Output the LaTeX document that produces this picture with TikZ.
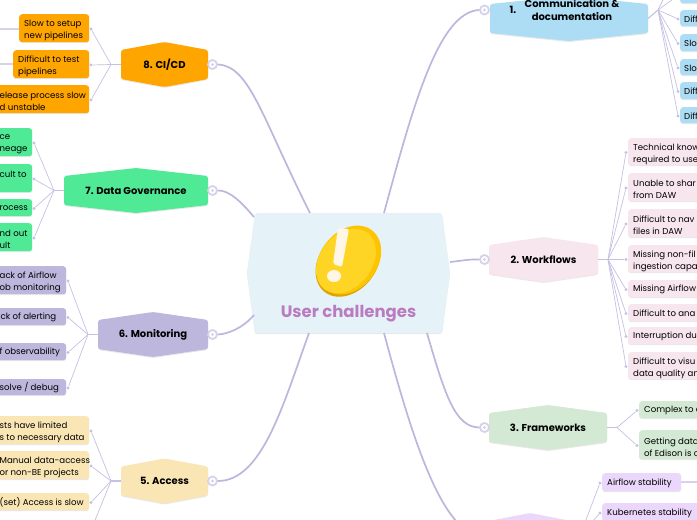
\documentclass[tikz,border=0pt]{standalone}
\usepackage{fontspec}
\setmainfont{Poppins}
\definecolor{cicd}{HTML}{FFA500}
\definecolor{gov}{HTML}{50E996}
\definecolor{moni}{HTML}{BDB6DD}
\definecolor{acc}{HTML}{F9E6B4}
\definecolor{comm}{HTML}{ADDCF5}
\definecolor{wflow}{HTML}{F7E6EE}
\definecolor{frame}{HTML}{D3E9D3}
\definecolor{stab}{HTML}{EBD7FB}
\definecolor{centre}{HTML}{E5F3F8}
\definecolor{trunk}{HTML}{BDB6DD}
\definecolor{twig}{HTML}{C6C1E4}
\definecolor{ringc}{HTML}{D6D2EA}
\definecolor{titlec}{HTML}{BA7BC0}
\definecolor{coinD}{HTML}{DDA500}
\definecolor{coinA}{HTML}{FFC400}
\definecolor{coinB}{HTML}{FFD525}
\definecolor{cream}{HTML}{FFF6E6}
\tikzset{
  softshadow/.style={preaction={fill=black,fill opacity=.09,transform canvas={yshift=-1pt}}},
  hexshape/.style={rounded corners=2.5pt,softshadow},
  boxshape/.style={draw=none,rounded corners=3pt,inner sep=0pt,softshadow,anchor=north west},
  leaftext/.style={anchor=west,align=left,inner sep=0pt,font=\fontsize{8.6}{12}\selectfont},
  topictext/.style={align=center,inner sep=0pt,font=\fontsize{10}{13}\selectfont\bfseries},
  bulletdot/.style={circle,fill=twig,inner sep=0pt,minimum size=3.2pt},
  ringdot/.style={circle,draw=ringc,fill=white,line width=1.8pt,inner sep=0pt,minimum size=9pt},
  trunkline/.style={draw=trunk,line width=1.7pt},
  stemline/.style={draw=twig,line width=1.1pt},
  twigline/.style={draw=twig,line width=.7pt},
  tailline/.style={draw=ringc,line width=1.1pt},
}
\newcommand\topichex[6]{% name,x1,x2,ymid,colour,text
  \fill[hexshape,fill=#5] (#2,{#4-14.5}) -- ({(#2+#3)/2},{#4-22.5}) -- (#3,{#4-14.5}) -- (#3,{#4+14.5}) -- ({(#2+#3)/2},{#4+22.5}) -- (#2,{#4+14.5}) -- cycle;
  \node[topictext] (#1) at ({(#2+#3)/2},#4) {#6};
  \coordinate (#1L) at (#2,#4);
  \coordinate (#1R) at (#3,#4);
}
\newcommand\boxleaf[8]{% name,x1,x2,y1,y2,colour,textx,text
  \node[boxshape,fill=#6,minimum width={(#3-#2)*1pt},minimum height={(#5-#4)*1pt}] (#1) at (#2,#4) {};
  \node[leaftext] (#1t) at (#7,{(#4+#5)/2+((#5-#4)>22?2.5:1)}) {#8};
}
\newcommand\lleaf[8]{\boxleaf{#1}{#2}{#3}{#4}{#5}{#6}{#7}{#8}\node[bulletdot] (#1d) at ({#3+2},{(#4+#5)/2+1}) {};}
\newcommand\rleaf[8]{\boxleaf{#1}{#2}{#3}{#4}{#5}{#6}{#7}{#8}\node[bulletdot] (#1d) at ({#2-2},{(#4+#5)/2+1}) {};}
\begin{document}
\begin{tikzpicture}[x=1pt,y=-1pt]
\useasboundingbox (0,0) rectangle (697,520);
\clip (0,0) rectangle (697,520);
\fill[white] (0,0) rectangle (697,520);

% centre
\fill[hexshape,fill=centre] (255,213) -- (442,213) -- (450,273) -- (442,333) -- (255,333) -- (247,273) -- cycle;
\coordinate (cEight) at (310,213);
\coordinate (cSeven) at (254,217);
\coordinate (cSix) at (254,315);
\coordinate (cFive) at (309,333);
\coordinate (cOne) at (384,213);
\coordinate (cTwo) at (450,262);
\coordinate (cThree) at (427,333);
\coordinate (cFour) at (384,333);
% coin
\fill[coinD,rotate around={-38:(348,262)}] (348,262) ellipse (28.5 and 38);
\fill[coinA,rotate around={-38:(349,260)}] (349,260) ellipse (28.5 and 37.5);
\fill[coinB,rotate around={-38:(346,261)}] (346,261) ellipse (26 and 35.5);
\fill[cream,rounded corners=2pt] (338,228) -- (349,229) -- (342,267) -- (333,264) -- cycle;
\fill[cream] (334,276) ellipse (7 and 6);
\node[inner sep=0pt,text=titlec,font=\fontsize{16.5}{20}\selectfont\bfseries] (title) at (348.5,313.5) {User challenges};

% topics
\topichex{cicd}{121}{208}{64.5}{cicd}{8. CI/CD}
\topichex{govn}{64}{208}{190.5}{gov}{7. Data Governance}
\topichex{mont}{98}{208}{334.5}{moni}{6. Monitoring}
\topichex{accs}{121}{208}{481}{acc}{5. Access}
\topichex{comu}{490}{648}{18.5}{comm}{}
\topichex{work}{489}{598}{259.5}{wflow}{2. Workflows}
\topichex{fram}{489}{607}{427.5}{frame}{3. Frameworks}
\topichex{stbl}{489}{571}{535.5}{stab}{}
\node[topictext] (comuA) at (513,10) {1.};
\node[topictext] (comuB) at (572,10) {Communication \&\\documentation};

% rings
\node[ringdot] (rEight) at (212.5,64.5) {};
\node[ringdot] (rSeven) at (212.5,190.5) {};
\node[ringdot] (rSix) at (212.5,334.5) {};
\node[ringdot] (rFive) at (212.5,481) {};
\node[ringdot] (rOne) at (484.5,10) {};
\node[ringdot] (rTwo) at (484.5,259.5) {};
\node[ringdot] (rThree) at (484.5,427.5) {};
\node[ringdot] (rFour) at (484.5,535.5) {};
\foreach \r in {rEight,rSeven,rSix,rFive,rOne,rTwo,rThree,rFour}{\fill[ringc] (\r) circle (1.6);}

% trunks
\draw[trunkline] (rEight.east) .. controls (250,66) and (262,118) .. (cEight);
\draw[trunkline] (rSeven.east) .. controls (230,190) and (243,204) .. (cSeven);
\draw[trunkline] (rSix.east) .. controls (228,334) and (243,328) .. (cSix);
\draw[trunkline] (rFive.east) .. controls (262,481) and (283,405) .. (cFive);
\draw[trunkline] (rOne.west) .. controls (438,12) and (412,110) .. (cOne);
\draw[trunkline] (rTwo.west) .. controls (470,259) and (460,261) .. (cTwo);
\draw[trunkline] (rThree.west) .. controls (455,427) and (445,395) .. (cThree);
\draw[trunkline] (rFour.west) .. controls (440,530) and (410,430) .. (cFour);

% leaves: CI/CD
\coordinate (jEight) at (111,64.5);
\lleaf{cA}{19}{89}{14}{42}{cicd}{24}{Slow to setup\\new pipelines}
\lleaf{cB}{13}{89}{50}{78}{cicd}{18}{Difficult to test\\pipelines}
\lleaf{cC}{-40}{89}{85}{113}{cicd}{-0.5}{elease process slow\\d unstable}
\coordinate (tailA) at (-5,29);
\coordinate (tailB) at (-5,64);
\draw[tailline] (tailA) -- (cA.west |- tailA);
\draw[tailline] (tailB) -- (cB.west |- tailB);
\draw[stemline] (cicdL) -- (jEight);
\foreach \n in {cA,cB,cC}{\draw[twigline] (jEight) -- (\n d);}

% leaves: governance
\coordinate (jSeven) at (54,190.5);
\lleaf{gA}{-40}{32}{128}{156}{gov}{-0.5}{ce\\neage}
\lleaf{gB}{-40}{32}{164}{192}{gov}{-0.5}{cult to\\\phantom{x}}
\lleaf{gC}{-40}{32}{199}{216}{gov}{-0.5}{rocess}
\lleaf{gD}{-40}{32}{223}{251}{gov}{-0.5}{nd out\\ult}
\draw[stemline] (govnL) -- (jSeven);
\foreach \n in {gA,gB,gC,gD}{\draw[twigline] (jSeven) -- (\n d);}

% leaves: monitoring
\coordinate (jSix) at (88,334.5);
\lleaf{mA}{-40}{66}{266}{294}{moni}{-0.5}{ack of Airflow\\ob monitoring}
\lleaf{mB}{-40}{66}{308}{325}{moni}{0.5}{ck of alerting}
\lleaf{mC}{-40}{66}{343}{360}{moni}{-0.5}{f observability}
\lleaf{mD}{-40}{66}{379}{395}{moni}{-0.5}{solve / debug}
\draw[stemline] (montL) -- (jSix);
\foreach \n in {mA,mB,mC,mD}{\draw[twigline] (jSix) -- (\n d);}

% leaves: access
\coordinate (jFive) at (111,481);
\coordinate (offA) at (91,530);
\lleaf{aA}{-40}{89}{416}{444}{acc}{-0.5}{sts have limited\\s to necessary data}
\lleaf{aB}{-40}{89}{451}{479}{acc}{-0.5}{Manual data-access\\or non-BE projects}
\lleaf{aC}{-40}{89}{493}{510}{acc}{-0.5}{(set) Access is slow}
\draw[stemline] (accsL) -- (jFive);
\foreach \n in {aA,aB,aC}{\draw[twigline] (jFive) -- (\n d);}
\draw[twigline] (jFive) -- (offA);

% leaves: communication
\coordinate (jOne) at (658,10);
\coordinate (offC) at (678,-30);
\rleaf{oA}{680}{760}{-14}{3}{comm}{684}{}
\rleaf{oB}{680}{760}{10}{26}{comm}{684}{Diff}
\rleaf{oC}{680}{760}{34}{51}{comm}{684}{Slo}
\rleaf{oD}{680}{760}{59}{75}{comm}{684}{Slo}
\rleaf{oE}{680}{760}{82}{99}{comm}{684}{Diff}
\rleaf{oF}{680}{760}{107}{123}{comm}{684}{Diff}
\draw[stemline] (comuR) -- (jOne);
\foreach \n in {oA,oB,oC,oD,oE,oF}{\draw[twigline] (jOne) -- (\n d);}
\draw[twigline] (jOne) -- (offC);

% leaves: workflows
\coordinate (jTwo) at (608,259.5);
\rleaf{wA}{628}{760}{138}{165}{wflow}{633}{Technical know\\required to use}
\rleaf{wB}{628}{760}{173}{201}{wflow}{633}{Unable to shar\\from DAW}
\rleaf{wC}{628}{760}{209}{237}{wflow}{633}{Difficult to nav\\files in DAW}
\rleaf{wD}{628}{760}{245}{272}{wflow}{633}{Missing non-fil\\ingestion capa}
\rleaf{wE}{628}{760}{280}{297}{wflow}{633}{Missing Airflow}
\rleaf{wF}{628}{760}{304}{321}{wflow}{633}{Difficult to ana}
\rleaf{wG}{628}{760}{327}{344}{wflow}{633}{Interruption du}
\rleaf{wH}{628}{760}{352}{379}{wflow}{633}{Difficult to visu\\data quality an}
\draw[stemline] (workR) -- (jTwo);
\foreach \n in {wA,wB,wC,wD,wE,wF,wG,wH}{\draw[twigline] (jTwo) -- (\n d);}

% leaves: frameworks
\coordinate (jThree) at (617,427.5);
\rleaf{fA}{639}{760}{401}{418}{frame}{644}{Complex to c}
\rleaf{fB}{639}{760}{430}{459}{frame}{644}{Getting data\\of Edison is c}
\draw[stemline] (framR) -- (jThree);
\foreach \n in {fA,fB}{\draw[twigline] (jThree) -- (\n d);}

% leaves: stability
\coordinate (jFour) at (580,535.5);
\rleaf{sA}{602}{681}{473}{491}{stab}{607}{Airflow stability}
\rleaf{sB}{602}{760}{503}{521}{stab}{607}{Kubernetes stability}
\coordinate (tailC) at (705,482);
\draw[tailline] (sA.east |- tailC) -- (tailC);
\foreach \n in {sA,sB}{\draw[twigline] (jFour) -- (\n d);}
\end{tikzpicture}
\end{document}
